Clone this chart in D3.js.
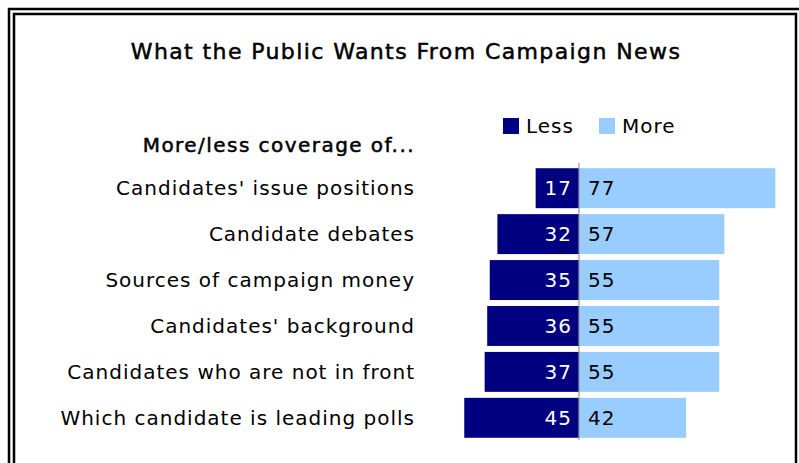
<!DOCTYPE html>
<html>
<head>
<meta charset="utf-8">
<script src="https://cdn.jsdelivr.net/npm/d3@7"></script>
<style>
  body { margin: 0; background: #fff; }
  svg text { font-family: "DejaVu Sans", Verdana, sans-serif; }
</style>
</head>
<body>
<svg id="chart" width="799" height="463"></svg>
<script>
const categories = [
    "Candidates' issue positions",
    "Candidate debates",
    "Sources of campaign money",
    "Candidates' background",
    "Candidates who are not in front",
    "Which candidate is leading polls"
];
const lessValues = [17, 32, 35, 36, 37, 45];
const moreValues = [77, 57, 55, 55, 55, 42];
const seriesNames = ["Less", "More"];
const seriesColors = ["#000080", "#99ccff"];

const svg = d3.select("#chart");
const zeroX = 579;

// frame: double rule
svg.append("rect").attr("x", 9).attr("y", 9).attr("width", 800).attr("height", 480)
    .attr("fill", "none").attr("stroke", "#000").attr("stroke-width", 2.5);
svg.append("rect").attr("x", 14).attr("y", 14).attr("width", 782).attr("height", 470)
    .attr("fill", "none").attr("stroke", "#000").attr("stroke-width", 2.5);

svg.append("text")
    .attr("x", 406).attr("y", 59)
    .attr("text-anchor", "middle")
    .style("font-size", "22px").style("letter-spacing", "1.4px")
    .attr("stroke", "#000").attr("stroke-width", 0.5)
    .text("What the Public Wants From Campaign News");

let x = d3.scaleLinear().domain([0, 100]).range([0, 255]);
let y = d3.scaleBand().domain(categories).range([165, 441]).paddingInner(0.13).paddingOuter(0.07);

// legend
const legend = svg.append("g");
const legendX = [503, 599];
seriesNames.forEach((name, i) => {
    legend.append("rect").attr("x", legendX[i]).attr("y", 118)
        .attr("width", 16).attr("height", 16).attr("fill", seriesColors[i]);
    legend.append("text").attr("x", legendX[i] + 23).attr("y", 133)
        .style("font-size", "20px").style("letter-spacing", "1px")
        .attr("fill", "#000").text(name);
});

svg.append("text")
    .attr("x", 415).attr("y", 152)
    .attr("text-anchor", "end")
    .style("font-size", "20px").style("letter-spacing", "1.45px")
    .attr("stroke", "#000").attr("stroke-width", 0.5)
    .text("More/less coverage of...");

const rows = svg.selectAll("g.row")
    .data(categories)
    .enter().append("g").attr("class", "row");

rows.append("text")
    .attr("x", 415)
    .attr("y", d => y(d) + y.bandwidth() / 2)
    .attr("dy", "0.36em")
    .attr("text-anchor", "end")
    .style("font-size", "20px").style("letter-spacing", "1px")
    .text(d => d);

rows.append("rect")
    .attr("x", (d, i) => zeroX - x(lessValues[i]))
    .attr("y", d => y(d))
    .attr("width", (d, i) => x(lessValues[i]))
    .attr("height", y.bandwidth())
    .attr("fill", seriesColors[0]);

rows.append("rect")
    .attr("x", zeroX)
    .attr("y", d => y(d))
    .attr("width", (d, i) => x(moreValues[i]))
    .attr("height", y.bandwidth())
    .attr("fill", seriesColors[1]);

rows.append("text")
    .attr("x", zeroX - 7)
    .attr("y", d => y(d) + y.bandwidth() / 2)
    .attr("dy", "0.36em")
    .attr("text-anchor", "end")
    .attr("fill", "#fff")
    .style("font-size", "20px").style("letter-spacing", "1px")
    .text((d, i) => lessValues[i]);

rows.append("text")
    .attr("x", zeroX + 9)
    .attr("y", d => y(d) + y.bandwidth() / 2)
    .attr("dy", "0.36em")
    .attr("fill", "#000")
    .style("font-size", "20px").style("letter-spacing", "1px")
    .text((d, i) => moreValues[i]);

svg.append("line")
    .attr("x1", zeroX).attr("x2", zeroX)
    .attr("y1", 163).attr("y2", 440)
    .attr("stroke", "#999").attr("stroke-width", 1.2);
</script>
</body>
</html>
